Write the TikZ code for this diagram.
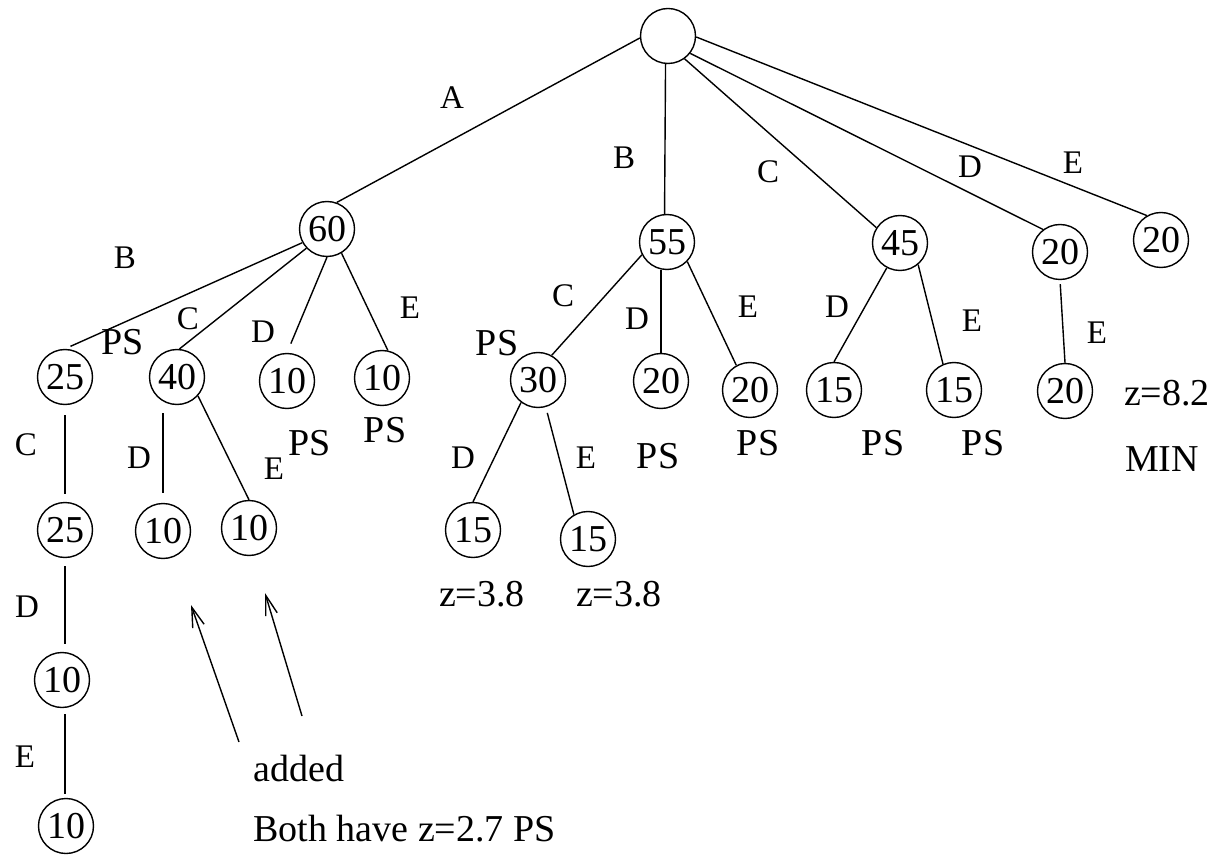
\documentclass[tikz,border=0pt]{standalone}
\usepackage{fontspec}
\setmainfont{Liberation Serif}
\usetikzlibrary{arrows.meta}
\begin{document}
\begin{tikzpicture}[x=0.5pt,y=-0.5pt,
  state/.style={circle,draw,line width=0.7pt,minimum size=27.5pt,inner sep=0pt,
    font=\fontsize{19}{21}\selectfont},
  edgelbl/.style={font=\fontsize{16.5}{18}\selectfont,inner sep=0pt},
  note/.style={font=\fontsize{19}{22}\selectfont,inner sep=0pt},
  branch/.style={line width=0.7pt},
  pointer/.style={line width=0.7pt,-{Straight Barb[length=10pt,width=6pt]}}]
\useasboundingbox (0,0) rectangle (1214,855);

% search tree nodes
\node[state] (root) at (668,36) {};
\node[state] (n60)  at (327,229) {60};
\node[state] (n55)  at (667,242) {55};
\node[state] (n45)  at (900,243) {45};
\node[state] (n20d) at (1060,252) {20};
\node[state] (n20e) at (1161,240) {20};

\node[state] (a25)  at (65,377) {25};
\node[state] (a40)  at (177,377) {40};
\node[state] (a10d) at (287,381) {10};
\node[state] (a10e) at (382,378) {10};

\node[state] (b30)  at (538,380) {30};
\node[state] (b20d) at (661,381) {20};
\node[state] (b20e) at (750,390) {20};

\node[state] (c15d) at (834,390) {15};
\node[state] (c15e) at (954,390) {15};

\node[state] (d20)  at (1065,391) {20};

\node[state] (a25c) at (65,530) {25};
\node[state] (a40d) at (163,531) {10};
\node[state] (a40e) at (249,528) {10};

\node[state] (b15d) at (473,530) {15};
\node[state] (b15e) at (588,539) {15};

\node[state] (a10x) at (62,680) {10};
\node[state] (a10y) at (66,826) {10};

% branches from the root
\draw[branch] (root.184) -- (n60.70);
\draw[branch] (root.265) -- (n55.95);
\draw[branch] (root.306) -- (n45.147);
\draw[branch] (root.322) -- (n20d.127);
\draw[branch] (root.358) -- (n20e.120);

% branches below 60
\draw[branch,shorten >=3pt] (n60.209) -- (a25.north);
\draw[branch] (n60.223) -- (a40.85);
\draw[branch,shorten >=5pt] (n60.270) -- (a10d.north);
\draw[branch] (n60.301) -- (a10e.78);
\draw[branch,shorten <=5pt,shorten >=4pt] (a25.south) -- (a25c.north);
\draw[branch,shorten <=4pt,shorten >=5pt] (a40d.north |- a40.south) -- (a40d.north);
\draw[branch] (a40.318) -- (a40e.north);
\draw[branch,shorten <=4pt,shorten >=4pt] (a25c.south) -- (a25c.south |- a10x.north);
\draw[branch,shorten <=3pt,shorten >=2pt] (a25c.south |- a10x.south) -- (a25c.south |- a10y.north);

% branches below 55
\draw[branch] (n55.207) -- (b30.61);
\draw[branch] (b20d.north |- n55.south) -- (b20d.north);
\draw[branch] (n55.316) -- (b20e.119);
\draw[branch] (b30.233) -- (b15d.north);
\draw[branch,shorten <=3pt] (b30.286) -- (b15e.120);

% branches below 45 and 20
\draw[branch] (n45.242) -- (c15d.north);
\draw[branch] (n45.310) -- (c15e.113);
\draw[branch,shorten <=2pt] (n20d.south) -- (d20.north);

% branch labels
\node[edgelbl] (lA)   at (452,98)  {A};
\node[edgelbl] (lB1)  at (624,158) {B};
\node[edgelbl] (lC1)  at (768,172) {C};
\node[edgelbl] (lD1)  at (970,167) {D};
\node[edgelbl] (lE1)  at (1073,163) {E};

\node[edgelbl] (lB2)  at (125,258) {B};
\node[edgelbl] (lC2)  at (188,319) {C};
\node[edgelbl] (lD2)  at (263,332) {D};
\node[edgelbl] (lE2)  at (410,308) {E};

\node[edgelbl] (lC3)  at (26,445)  {C};
\node[edgelbl] (lD3)  at (139,458) {D};
\node[edgelbl] (lE3)  at (274,469) {E};

\node[edgelbl] (lD4)  at (27,607)  {D};
\node[edgelbl] (lE4)  at (25,757)  {E};

\node[edgelbl] (lC5)  at (563,296) {C};
\node[edgelbl] (lD5)  at (637,319) {D};
\node[edgelbl] (lE5)  at (748,307) {E};

\node[edgelbl] (lD6)  at (463,458) {D};
\node[edgelbl] (lE6)  at (586,458) {E};

\node[edgelbl] (lD7)  at (837,307) {D};
\node[edgelbl] (lE7)  at (972,321) {E};

\node[edgelbl] (lE8)  at (1097,333) {E};

% annotations
\node[note] (ps1) at (123,342) {PS};
\node[note] (ps2) at (310,443) {PS};
\node[note] (ps3) at (385,430) {PS};
\node[note] (ps4) at (497,343) {PS};
\node[note] (ps5) at (658,456) {PS};
\node[note] (ps6) at (758,443) {PS};
\node[note] (ps7) at (883,443) {PS};
\node[note] (ps8) at (983,443) {PS};

\node[note] (z1) at (482,594) {z=3.8};
\node[note] (z2) at (619,594) {z=3.8};
\node[note] (z3) at (1167,393) {z=8.2};
\node[note] (mn) at (1162,459) {MIN};

\node[note,anchor=west] (added) at (253,768) {added};
\node[note,anchor=west] (both)  at (253,829) {Both have z=2.7 PS};

% pointers to the added nodes
\coordinate (t1) at (239,742);
\coordinate (h1) at (191,605);
\coordinate (t2) at (302,716);
\coordinate (h2) at (265,593);
\draw[pointer] (t1) -- (h1);
\draw[pointer] (t2) -- (h2);
\end{tikzpicture}
\end{document}
